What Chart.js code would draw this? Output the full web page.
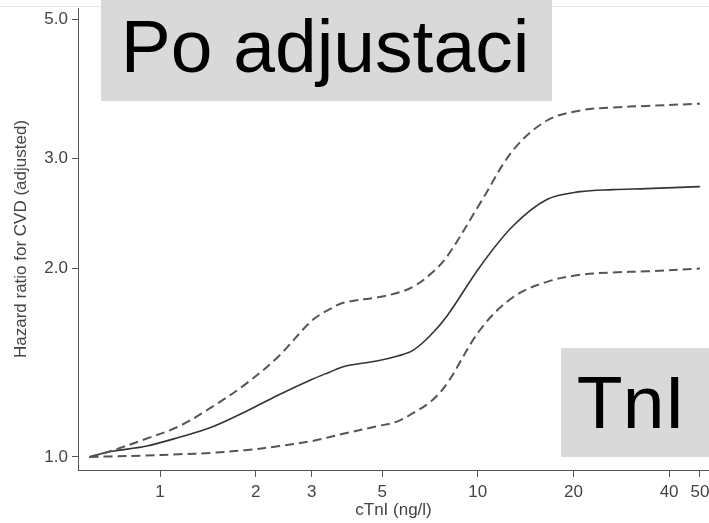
<!DOCTYPE html>
<html>
<head>
<meta charset="utf-8">
<script src="https://cdn.jsdelivr.net/npm/chart.js@4.4.1/dist/chart.umd.min.js"></script>
<style>
  html, body { margin: 0; padding: 0; background: #ffffff; }
  #wrap { position: relative; width: 709px; height: 523px; }
</style>
</head>
<body>
<div id="wrap"><canvas id="c" width="709" height="523"></canvas></div>
<script>
// cTnI concentration (ng/l)
const cTnI = [0.6, 0.7, 0.9, 1.15, 1.45, 1.85, 2.35, 3.0, 3.4, 3.8, 4.85, 5.6, 6.25, 7.1, 8.0, 10.2, 12.9, 16.5, 21, 26.6, 34, 50];
// Hazard ratio estimate (solid) and 95% CI (dashed)
const hrEstimate = [1.00, 1.02, 1.04, 1.075, 1.115, 1.18, 1.255, 1.33, 1.365, 1.395, 1.425, 1.45, 1.48, 1.565, 1.68, 2.02, 2.34, 2.58, 2.655, 2.675, 2.685, 2.705];
const hrUpper    = [1.00, 1.022, 1.068, 1.12, 1.20, 1.305, 1.445, 1.65, 1.72, 1.765, 1.80, 1.83, 1.87, 1.96, 2.09, 2.55, 3.09, 3.45, 3.58, 3.62, 3.64, 3.67];
const hrLower    = [1.00, 1.002, 1.005, 1.01, 1.015, 1.025, 1.04, 1.06, 1.075, 1.09, 1.12, 1.14, 1.175, 1.225, 1.31, 1.60, 1.80, 1.905, 1.955, 1.972, 1.98, 2.00];
// Tick labels
const xTicks = [1, 2, 3, 5, 10, 20, 40, 50];
const yTicks = [1, 2, 3, 5];
// Overlay labels
const labelTop = "Po adjustaci";
const labelSide = "TnI";
const xTitle = "cTnI (ng/l)";
const yTitle = "Hazard ratio for CVD (adjusted)";

const FONT = "'Liberation Sans', Arial, Helvetica, sans-serif";

function pts(ys) { return cTnI.map((x, i) => ({ x: x, y: ys[i] })); }

const overlayPlugin = {
  id: 'overlay',
  beforeDraw(chart) {
    const ctx = chart.ctx;
    ctx.save();
    ctx.strokeStyle = '#e6e6e6';
    ctx.lineWidth = 1;
    ctx.beginPath();
    ctx.moveTo(0, 6.5);
    ctx.lineTo(709, 6.5);
    ctx.stroke();
    ctx.restore();
  },
  afterDraw(chart) {
    const ctx = chart.ctx;
    ctx.save();
    ctx.fillStyle = '#d9d9d9';
    ctx.fillRect(101, 0, 451, 101);
    ctx.fillRect(561, 348, 148, 109);
    ctx.fillStyle = '#000000';
    ctx.font = "75px " + FONT;
    ctx.textAlign = 'center';
    ctx.textBaseline = 'alphabetic';
    ctx.fillText(labelTop, 325, 72);
    ctx.fillText(labelSide, 631, 428);
    ctx.restore();
  }
};

const lineBase = { pointRadius: 0, tension: 0.35, cubicInterpolationMode: 'default', fill: false };

new Chart(document.getElementById('c'), {
  type: 'line',
  data: {
    datasets: [
      Object.assign({ data: pts(hrUpper), borderColor: '#555555', borderWidth: 2, borderDash: [9, 5] }, lineBase),
      Object.assign({ data: pts(hrLower), borderColor: '#555555', borderWidth: 2, borderDash: [9, 5] }, lineBase),
      Object.assign({ data: pts(hrEstimate), borderColor: '#333333', borderWidth: 1.6 }, lineBase)
    ]
  },
  plugins: [overlayPlugin],
  options: {
    responsive: false,
    animation: false,
    events: [],
    layout: { padding: { top: 8, right: 0, left: 0, bottom: 0 } },
    plugins: { legend: { display: false }, tooltip: { enabled: false } },
    scales: {
      x: {
        type: 'logarithmic',
        min: 0.552,
        max: 53.4,
        border: { display: true, color: '#555555', width: 1 },
        grid: { display: true, drawOnChartArea: false, tickLength: 7, tickColor: '#555555', tickWidth: 1 },
        afterBuildTicks: (s) => { s.ticks = xTicks.map(v => ({ value: v })); },
        afterFit: (s) => { s.height = 53; s.paddingLeft = 0; s.paddingRight = 0; },
        ticks: {
          autoSkip: false, maxRotation: 0, minRotation: 0, padding: 5,
          color: '#444444', font: { family: FONT, size: 17 },
          callback: (v) => String(v)
        },
        title: { display: true, text: xTitle, color: '#444444', font: { family: FONT, size: 17 }, padding: { top: 0, bottom: 2 } }
      },
      y: {
        type: 'logarithmic',
        min: 0.953,
        max: 5.22,
        border: { display: true, color: '#555555', width: 1 },
        grid: { display: true, drawOnChartArea: false, tickLength: 6, tickColor: '#555555', tickWidth: 1 },
        afterBuildTicks: (s) => { s.ticks = yTicks.map(v => ({ value: v })); },
        afterFit: (s) => { s.width = 78; s.paddingTop = 0; s.paddingBottom = 0; },
        ticks: {
          autoSkip: false, padding: 4,
          color: '#444444', font: { family: FONT, size: 17 },
          callback: (v) => Number(v).toFixed(1)
        },
        title: { display: true, text: yTitle, color: '#444444', font: { family: FONT, size: 17 }, padding: { top: 11, bottom: 0 } }
      }
    }
  }
});
</script>
</body>
</html>
